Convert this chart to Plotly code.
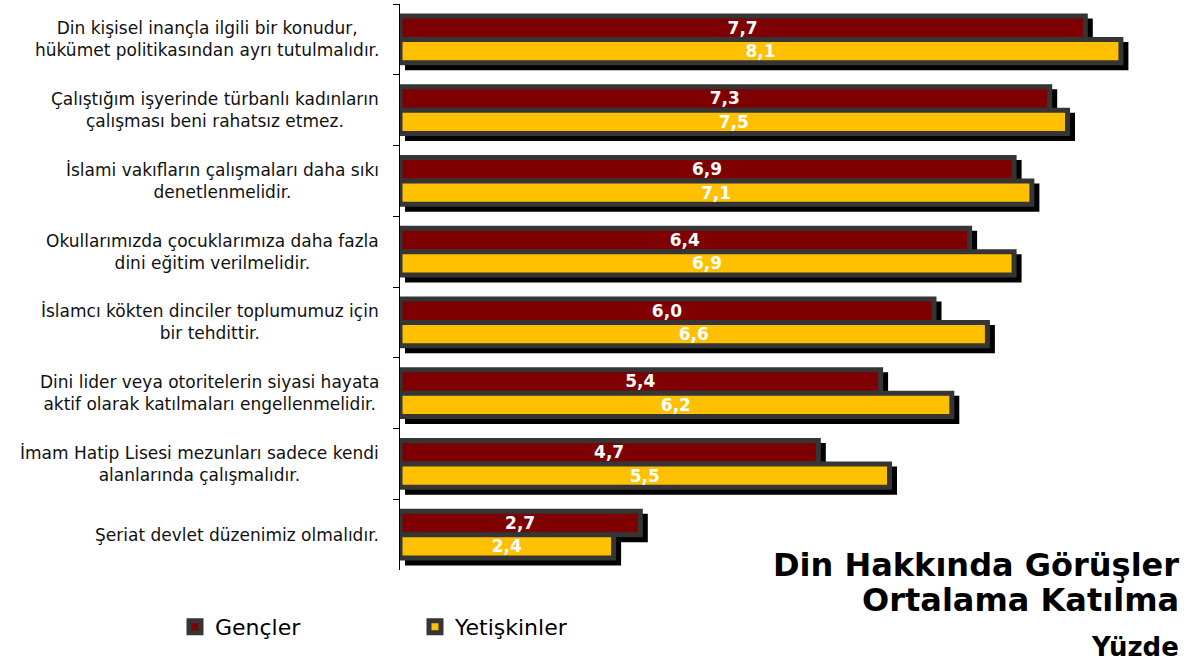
import plotly.graph_objects as go

categories = [
    "Din kişisel inançla ilgili bir konudur,<br>hükümet politikasından ayrı tutulmalıdır.",
    "Çalıştığım işyerinde türbanlı kadınların<br>çalışması beni rahatsız etmez.",
    "İslami vakıfların çalışmaları daha sıkı<br>denetlenmelidir.",
    "Okullarımızda çocuklarımıza daha fazla<br>dini eğitim verilmelidir.",
    "İslamcı kökten dinciler toplumumuz için<br>bir tehdittir.",
    "Dini lider veya otoritelerin siyasi hayata<br>aktif olarak katılmaları engellenmelidir.",
    "İmam Hatip Lisesi mezunları sadece kendi<br>alanlarında çalışmalıdır.",
    "Şeriat devlet düzenimiz olmalıdır.",
]
cat_keys = [f"c{i}" for i in range(len(categories))]
genc = [7.7, 7.3, 6.9, 6.4, 6.0, 5.4, 4.7, 2.7]
yetiskin = [8.1, 7.5, 7.1, 6.9, 6.6, 6.2, 5.5, 2.4]
series_names = ["Gençler", "Yetişkinler"]
series_colors = ["#7F0000", "#FFC000"]

W, H = 1197, 668
ML, MR, MT, MB = 400, 5, 4, 93
PW = W - ML - MR
PH = H - MT - MB
OFF = 5
PXU = 89.0
xmax = (PW - OFF) / PXU

fig = go.Figure()

# shadows (drawn first, on offset subplot)
for vals in (genc, yetiskin):
    fig.add_trace(go.Bar(
        x=vals, y=cat_keys, orientation="h",
        marker=dict(color="#000000", line=dict(color="#000000", width=5)),
        xaxis="x", yaxis="y", showlegend=False, hoverinfo="skip",
    ))

# real bars
for vals, name, col in zip((genc, yetiskin), series_names, series_colors):
    fig.add_trace(go.Bar(
        x=vals, y=cat_keys, orientation="h", name=name,
        marker=dict(color=col, line=dict(color="#353535", width=5)),
        texttemplate="%{x:.1f}", textposition="inside", insidetextanchor="middle",
        textangle=0, constraintext="none",
        textfont=dict(family="DejaVu Sans", size=17, color="white", weight="bold"),
        xaxis="x2", yaxis="y2",
    ))

annotations = []
for key, lab in zip(cat_keys, categories):
    annotations.append(dict(
        x=0, xref="paper", y=key, yref="y2", xanchor="right", yanchor="middle",
        xshift=-19, text=lab, showarrow=False, align="center",
        font=dict(family="DejaVu Sans", size=17, color="#111111"),
    ))

def py(px):
    return (MT + PH - px) / PH

def pxx(px):
    return (px - ML) / PW

title_lines = [("Din Hakkında Görüşler", 32, 565), ("Ortalama Katılma", 32, 600), ("Yüzde", 26, 647)]
for txt, sz, yy in title_lines:
    annotations.append(dict(
        x=pxx(1181), xref="paper", y=py(yy), yref="paper", xanchor="right", yanchor="middle",
        text=f"<b>{txt}</b>", showarrow=False,
        font=dict(family="DejaVu Sans", size=sz, color="#000000"),
    ))

fig.update_layout(
    width=W, height=H,
    margin=dict(l=ML, r=MR, t=MT, b=MB, autoexpand=False),
    paper_bgcolor="white", plot_bgcolor="rgba(0,0,0,0)",
    barmode="group", bargap=0.34, bargroupgap=0,
    separators=",.",
    xaxis=dict(domain=[OFF / PW, 1], range=[0, xmax], visible=False, fixedrange=True),
    yaxis=dict(domain=[0, 1 - OFF / PH], type="category", categoryorder="array",
               categoryarray=cat_keys, autorange="reversed", visible=False),
    xaxis2=dict(domain=[0, 1 - OFF / PW], range=[0, xmax], anchor="y2", visible=False),
    yaxis2=dict(domain=[OFF / PH, 1], type="category", categoryorder="array",
                categoryarray=cat_keys, autorange="reversed", anchor="x2",
                showline=True, linecolor="#000000", linewidth=1,
                ticks="outside", ticklen=6, tickcolor="#000000", tickson="boundaries",
                showticklabels=False, showgrid=False, zeroline=False),
    showlegend=True,
    legend=dict(orientation="h", x=pxx(175), xanchor="left", y=py(627), yanchor="middle",
                font=dict(family="DejaVu Sans", size=22, color="#000000"),
                entrywidth=195, entrywidthmode="pixels", traceorder="normal",
                bgcolor="rgba(0,0,0,0)"),
    annotations=annotations,
)

fig.write_html("out.html", config={"displayModeBar": False},
               post_script="document.body.style.margin='0';document.body.style.overflow='hidden';")
